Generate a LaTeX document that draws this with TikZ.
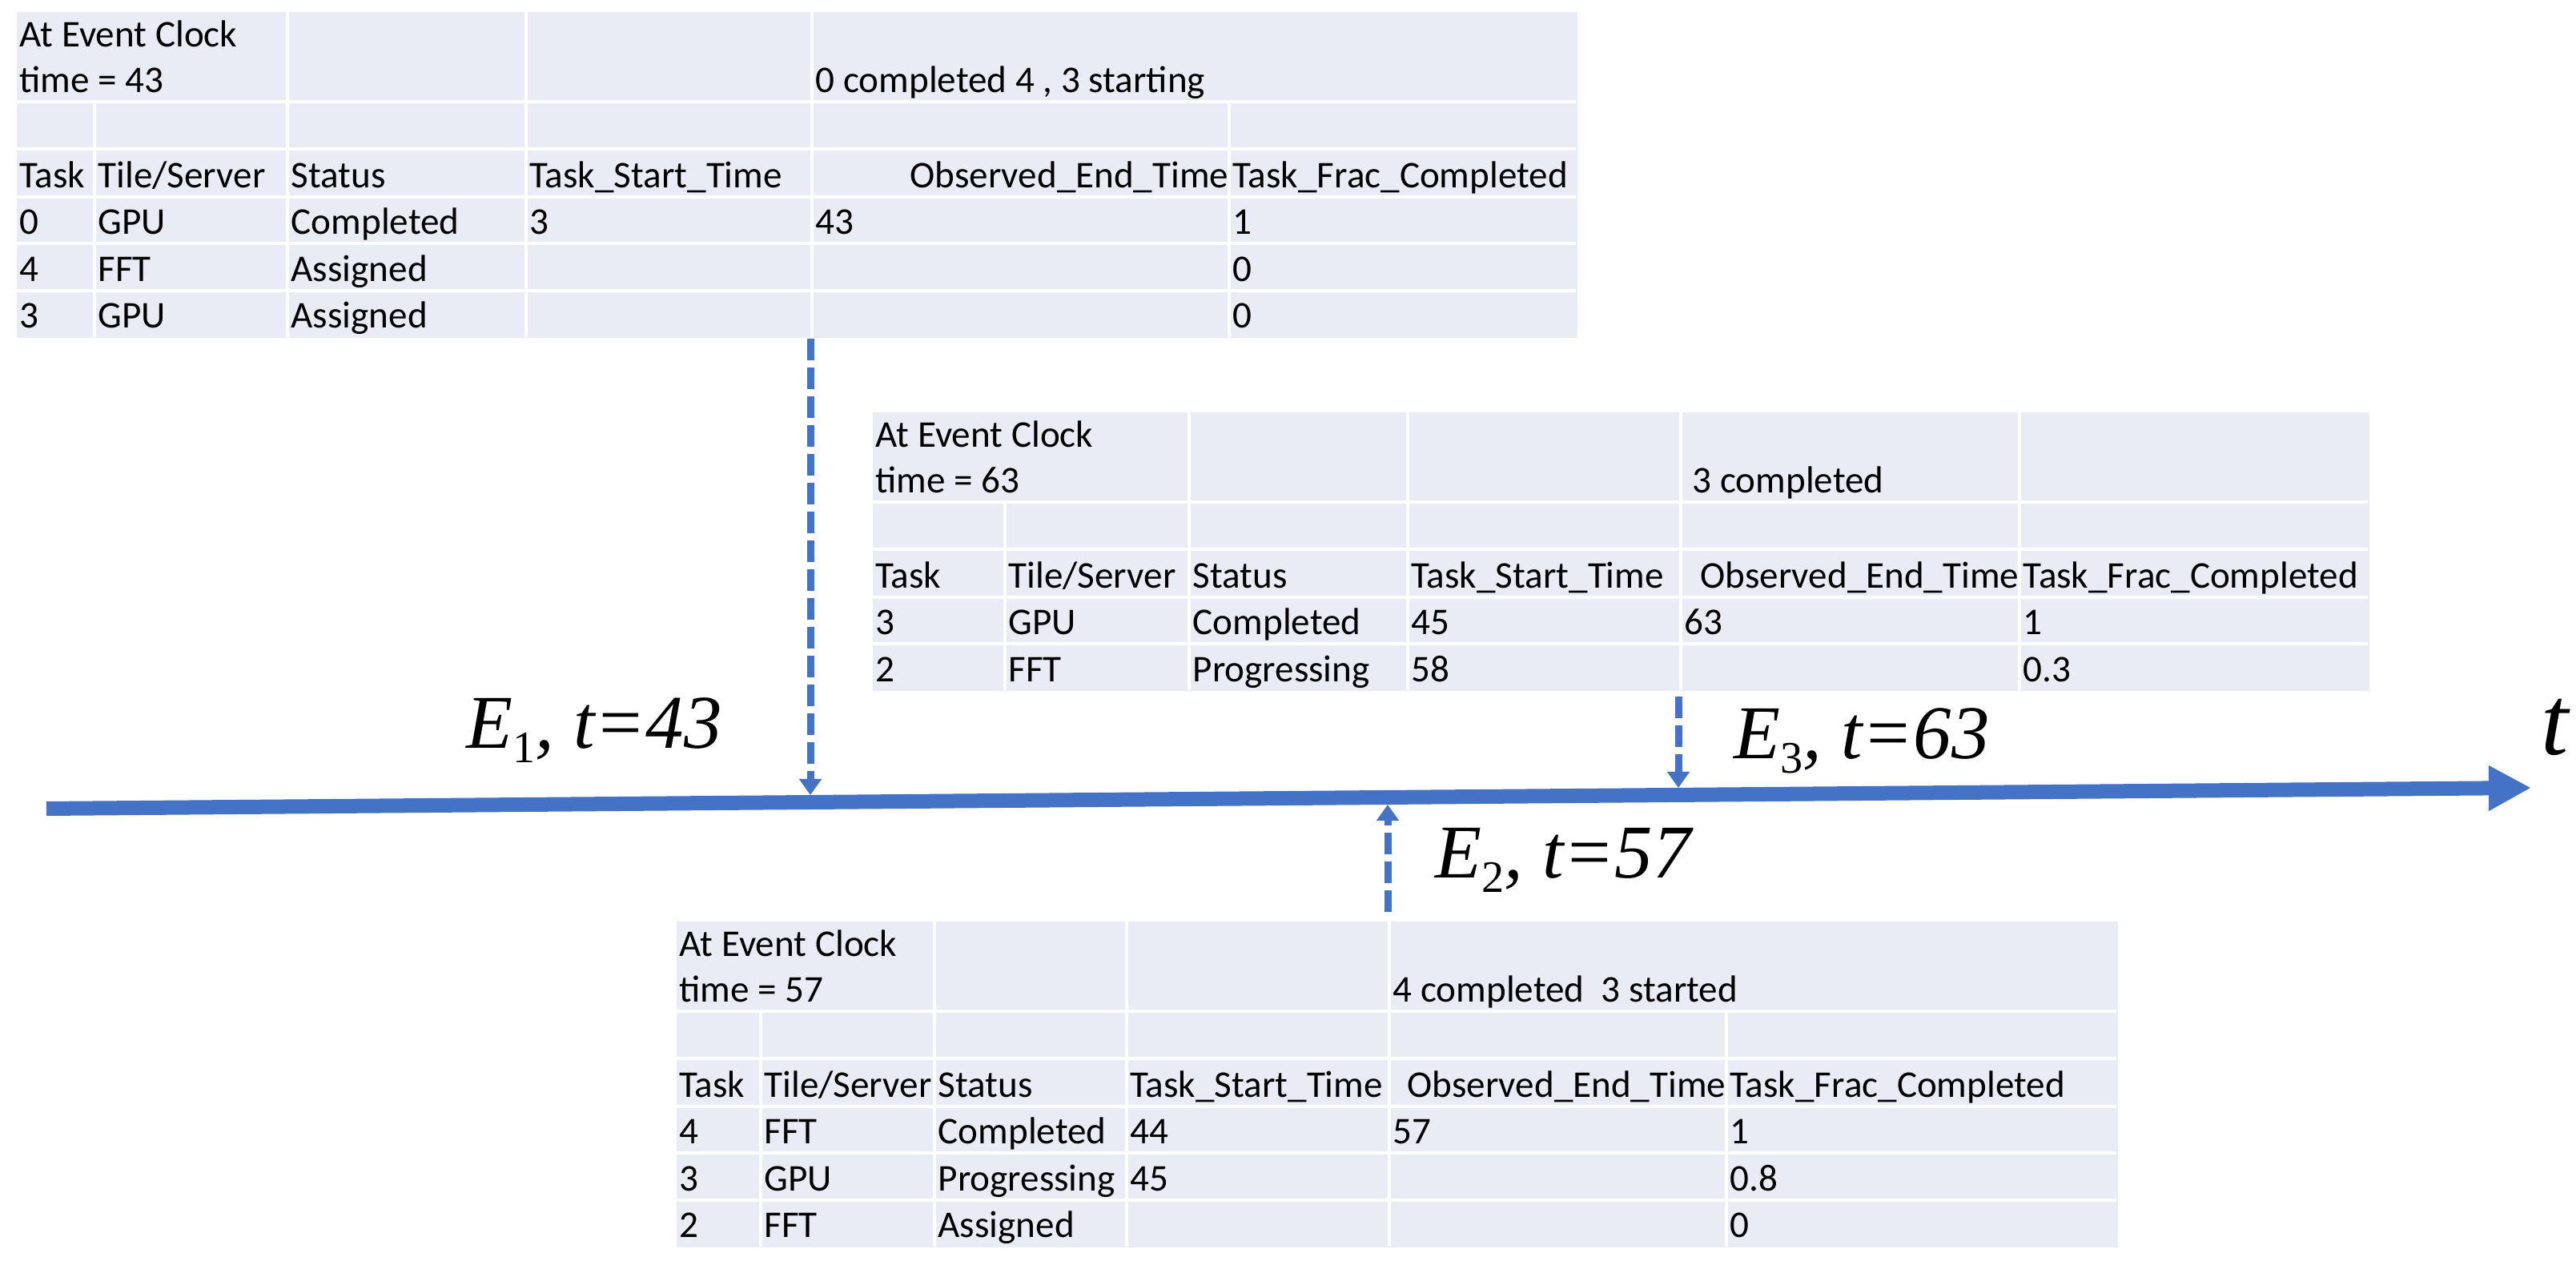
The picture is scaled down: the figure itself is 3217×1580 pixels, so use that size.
\documentclass[tikz,border=0pt]{standalone}
\usepackage{fontspec}
\usepackage{tikz}
\usetikzlibrary{arrows.meta}
\newfontfamily\cellfont{Carlito}
\newfontfamily\lblfont{Liberation Serif}
\definecolor{cellbg}{HTML}{E9EBF5}
\definecolor{lineblue}{HTML}{4472C4}
\newcommand{\evsub}[1]{\raisebox{-5pt}{\fontsize{16}{16}\selectfont\upshape #1}}

\begin{document}
\begin{tikzpicture}[
    x=0.01cm, y=-0.01cm,
    tabbg/.style={rectangle, fill=cellbg, inner sep=0pt, anchor=north west},
    gridln/.style={white, line width=0.04cm},
    cell/.style={inner sep=0pt, anchor=base west, font=\cellfont\fontsize{13.4}{16}\selectfont},
    lbl/.style={inner sep=0pt, anchor=base west, font=\lblfont\fontsize{27}{32}\selectfont\itshape},
    timeline/.style={-{Triangle[length=0.53cm, width=0.53cm]}, lineblue, line width=0.18cm},
    evarrow/.style={-{Triangle[length=0.2cm, width=0.27cm]}, lineblue, line width=0.09cm, dash pattern=on 0.27cm off 0.09cm}
]
\useasboundingbox (0,0) rectangle (3217,1580);

% event table at t=43
\node[tabbg, minimum width=19.48cm, minimum height=4.07cm] (tabE1) at (20,14) {};
\foreach \y in {127,186,246,304,363} \draw[gridln] (20,\y) -- (1968,\y);
\foreach \x in {359,657,1014} \draw[gridln] (\x,14) -- (\x,421);
\foreach \x in {118,1535} \draw[gridln] (\x,127) -- (\x,421);

\node[cell] (E1-clk) at (24,59) {At Event Clock};
\node[cell] (E1-time) at (24,116) {time = 43};
\node[cell] (E1-note) at (1018,116) {0 completed 4 , 3 starting};
\node[cell] (E1-h1) at (24,235) {Task};
\node[cell] (E1-h2) at (122,235) {Tile/Server};
\node[cell] (E1-h3) at (363,235) {Status};
\node[cell] (E1-h4) at (661,235) {Task\_Start\_Time};
\node[cell, anchor=base east] (E1-h5) at (1535,235) {Observed\_End\_Time};
\node[cell] (E1-h6) at (1539,235) {Task\_Frac\_Completed};
\foreach \x/\s [count=\i] in {24/0, 122/GPU, 363/Completed, 661/3, 1018/43, 1539/1}
  \node[cell] (E1-a\i) at (\x,293) {\s};
\foreach \x/\s [count=\i] in {24/4, 122/FFT, 363/Assigned, 1539/0}
  \node[cell] (E1-b\i) at (\x,352) {\s};
\foreach \x/\s [count=\i] in {24/3, 122/GPU, 363/Assigned, 1539/0}
  \node[cell] (E1-c\i) at (\x,410) {\s};

% event table at t=63
\node[tabbg, minimum width=18.68cm, minimum height=3.48cm] (tabE3) at (1089,514) {};
\foreach \y in {627,686,746,804} \draw[gridln] (1089,\y) -- (2957,\y);
\foreach \x in {1485,1758,2099,2522} \draw[gridln] (\x,514) -- (\x,862);
\draw[gridln] (1255,627) -- (1255,862);

\node[cell] (E3-clk) at (1093,559) {At Event Clock};
\node[cell] (E3-time) at (1093,616) {time = 63};
\node[cell] (E3-note) at (2113,616) {3 completed};
\node[cell] (E3-h1) at (1093,735) {Task};
\node[cell] (E3-h2) at (1259,735) {Tile/Server};
\node[cell] (E3-h3) at (1489,735) {Status};
\node[cell] (E3-h4) at (1762,735) {Task\_Start\_Time};
\node[cell, anchor=base east] (E3-h5) at (2522,735) {Observed\_End\_Time};
\node[cell] (E3-h6) at (2526,735) {Task\_Frac\_Completed};
\foreach \x/\s [count=\i] in {1093/3, 1259/GPU, 1489/Completed, 1762/45, 2103/63, 2526/1}
  \node[cell] (E3-a\i) at (\x,793) {\s};
\foreach \x/\s [count=\i] in {1093/2, 1259/FFT, 1489/Progressing, 1762/58, 2526/0.3}
  \node[cell] (E3-b\i) at (\x,852) {\s};

% event table at t=57
\node[tabbg, minimum width=17.99cm, minimum height=4.07cm] (tabE2) at (844,1150) {};
\foreach \y in {1263,1322,1382,1440,1499} \draw[gridln] (844,\y) -- (2643,\y);
\foreach \x in {1167,1407,1735} \draw[gridln] (\x,1150) -- (\x,1557);
\foreach \x in {950,2156} \draw[gridln] (\x,1263) -- (\x,1557);

\node[cell] (E2-clk) at (848,1195) {At Event Clock};
\node[cell] (E2-time) at (848,1252) {time = 57};
\node[cell] (E2-note) at (1739,1252) {4 completed\ \ 3 started};
\node[cell] (E2-h1) at (848,1371) {Task};
\node[cell] (E2-h2) at (954,1371) {Tile/Server};
\node[cell] (E2-h3) at (1171,1371) {Status};
\node[cell] (E2-h4) at (1411,1371) {Task\_Start\_Time};
\node[cell, anchor=base east] (E2-h5) at (2156,1371) {Observed\_End\_Time};
\node[cell] (E2-h6) at (2160,1371) {Task\_Frac\_Completed};
\foreach \x/\s [count=\i] in {848/4, 954/FFT, 1171/Completed, 1411/44, 1739/57, 2160/1}
  \node[cell] (E2-a\i) at (\x,1429) {\s};
\foreach \x/\s [count=\i] in {848/3, 954/GPU, 1171/Progressing, 1411/45, 2160/0.8}
  \node[cell] (E2-b\i) at (\x,1488) {\s};
\foreach \x/\s [count=\i] in {848/2, 954/FFT, 1171/Assigned, 2160/0}
  \node[cell] (E2-c\i) at (\x,1546) {\s};

% time axis
\coordinate (tlA) at (58,1010);
\coordinate (tlB) at (3161,984);
\draw[timeline] (tlA) -- (tlB);
\node[lbl, font=\lblfont\fontsize{35}{40}\selectfont\itshape] (lblt) at (3173,943) {t};

\coordinate (ev1) at (1012,993);
\coordinate (ev2) at (1733,1005);
\coordinate (ev3) at (2096,984);
\draw[evarrow] (tabE1.south -| ev1) -- (ev1);
\draw[evarrow, shorten <=0.11cm] (tabE2.north -| ev2) -- (ev2);
\draw[evarrow, shorten <=0.06cm] (tabE3.south -| ev3) -- (ev3);

\node[lbl] (lblE1) at (582,935) {E\evsub{1}, t=43};
\node[lbl] (lblE2) at (1792,1097) {E\evsub{2}, t=57};
\node[lbl] (lblE3) at (2165,948) {E\evsub{3}, t=63};
\end{tikzpicture}
\end{document}
